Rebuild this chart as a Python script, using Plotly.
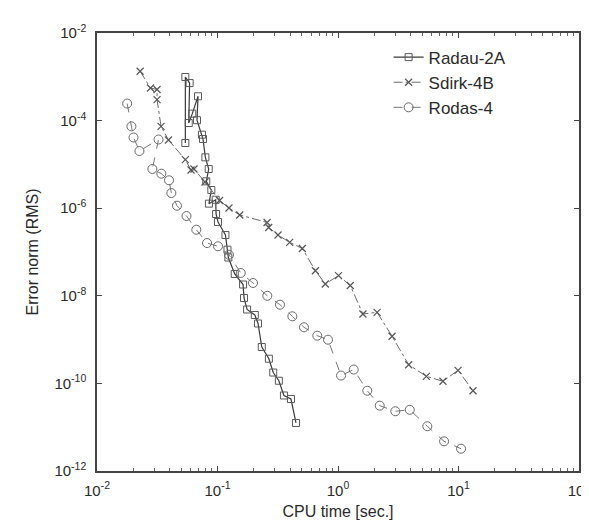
import plotly.graph_objects as go

# Radau-2A
radau_x = [0.0541, 0.0541, 0.0587, 0.0577, 0.0618, 0.0689, 0.0676, 0.0743, 0.0758, 0.0793,
           0.0845, 0.0807, 0.0889, 0.0849, 0.0966, 0.0973, 0.101, 0.1164, 0.121, 0.123,
           0.139, 0.163, 0.166, 0.176, 0.204, 0.217, 0.233, 0.267, 0.290, 0.323,
           0.356, 0.407, 0.448]
radau_y = [3.08e-5, 9.9e-4, 7.2e-4, 8.8e-5, 1.44e-4, 3.59e-4, 1.02e-4, 4.77e-5, 3.8e-5, 1.45e-5,
           7.85e-6, 4.11e-6, 2.6e-6, 1.27e-6, 1.56e-6, 7.38e-7, 4.84e-7, 2.44e-7, 1.13e-7, 7.48e-8,
           3.15e-8, 1.81e-8, 8.9e-9, 4.87e-9, 3.65e-9, 2.33e-9, 6.78e-10, 3.66e-10, 1.77e-10, 1.15e-10,
           5.3e-11, 4.4e-11, 1.25e-11]

# Sdirk-4B
sdirk_x = [0.0228, 0.0278, 0.0315, 0.0315, 0.034, 0.0392, 0.0541, 0.0603, 0.0638, 0.0787,
           0.104, 0.1245, 0.153, 0.258, 0.266, 0.318, 0.397, 0.506, 0.649, 0.785,
           1.01, 1.265, 1.61, 2.11, 2.81, 3.86, 5.41, 7.43, 9.91, 13.2]
sdirk_y = [1.34e-3, 5.55e-4, 5.13e-4, 3.0e-4, 7.4e-5, 3.6e-5, 1.28e-5, 7.45e-6, 7.85e-6, 3.96e-6,
           1.5e-6, 1.01e-6, 7.0e-7, 4.72e-7, 3.62e-7, 2.44e-7, 1.66e-7, 1.2e-7, 3.74e-8, 1.86e-8,
           2.9e-8, 1.72e-8, 3.84e-9, 4.2e-9, 1.19e-9, 2.67e-10, 1.45e-10, 1.12e-10, 1.99e-10, 6.8e-11]

# Rodas-4
rodas_x = [0.0178, 0.0193, 0.0201, 0.0225, 0.0324, 0.0288, 0.0342, 0.0396, 0.0414, 0.0461,
           0.0553, 0.0667, 0.0819, 0.101, 0.1245, 0.156, 0.197, 0.259, 0.330, 0.418,
           0.522, 0.673, 0.826, 1.06, 1.35, 1.75, 2.22, 2.99, 3.94, 5.51,
           7.59, 10.5]
rodas_y = [2.45e-4, 7.4e-5, 4.11e-5, 2.02e-5, 3.7e-5, 7.85e-6, 6.14e-6, 4.34e-6, 2.22e-6, 1.14e-6,
           6.64e-7, 3.23e-7, 1.6e-7, 1.35e-7, 8.67e-8, 3.32e-8, 1.96e-8, 1.0e-8, 6.27e-9, 3.4e-9,
           1.91e-9, 1.23e-9, 9.95e-10, 1.51e-10, 2.07e-10, 6.8e-11, 3.1e-11, 2.31e-11, 2.5e-11, 1.05e-11,
           4.76e-12, 3.23e-12]

x_tickvals = [1e-2, 1e-1, 1e0, 1e1, 1e2]
x_ticktext = ["10<sup>-2</sup>", "10<sup>-1</sup>", "10<sup>0</sup>", "10<sup>1</sup>", "10<sup>2</sup>"]
y_tickvals = [1e-12, 1e-10, 1e-8, 1e-6, 1e-4, 1e-2]
y_ticktext = ["10<sup>-12</sup>", "10<sup>-10</sup>", "10<sup>-8</sup>", "10<sup>-6</sup>",
              "10<sup>-4</sup>", "10<sup>-2</sup>"]

FONT = "Liberation Sans, Arial, sans-serif"
TXT = "#2a2a2a"

fig = go.Figure()
fig.add_trace(go.Scatter(
    x=radau_x, y=radau_y, name="Radau-2A", mode="lines+markers",
    line=dict(color="#3a3a3a", width=1.2),
    marker=dict(symbol="square-open", size=7, color="#5a5a5a", line=dict(width=1))))
fig.add_trace(go.Scatter(
    x=sdirk_x, y=sdirk_y, name="Sdirk-4B", mode="lines+markers",
    line=dict(color="#6a6a6a", width=1, dash="dashdot"),
    marker=dict(symbol="x-thin-open", size=7, color="#555555", line=dict(width=1.2))))
fig.add_trace(go.Scatter(
    x=rodas_x, y=rodas_y, name="Rodas-4", mode="lines+markers",
    line=dict(color="#777777", width=1, dash="dash"),
    marker=dict(symbol="circle-open", size=9, color="#6a6a6a", line=dict(width=1))))

axis_common = dict(
    type="log", showgrid=False, zeroline=False, showline=True, linecolor="#444444",
    linewidth=1.5, mirror="ticks", ticks="inside", ticklen=5, tickcolor="#444444",
    tickfont=dict(family=FONT, size=15, color=TXT),
)

fig.update_xaxes(
    **axis_common, range=[-2, 2], tickvals=x_tickvals, ticktext=x_ticktext,
    ticklabelstandoff=5,
    minor=dict(ticks="inside", ticklen=3, tickcolor="#666666", dtick="D1", showgrid=False),
    title=dict(text="CPU time [sec.]", font=dict(family=FONT, size=16, color=TXT), standoff=8),
)
fig.update_yaxes(
    **axis_common, range=[-12, -2], tickvals=y_tickvals, ticktext=y_ticktext,
    ticklabelstandoff=6,
    title=dict(text="Error norm (RMS)", font=dict(family=FONT, size=16, color=TXT), standoff=12),
)

fig.update_layout(
    width=589, height=524,
    margin=dict(l=89, r=18, t=25, b=61, autoexpand=False),
    plot_bgcolor="white", paper_bgcolor="white",
    showlegend=True,
    legend=dict(x=0.605, y=0.985, xanchor="left", yanchor="top",
                bgcolor="rgba(255,255,255,0)", borderwidth=0,
                font=dict(family=FONT, size=17, color=TXT),
                tracegroupgap=0, itemwidth=30),
)

fig.write_html("out.html")
